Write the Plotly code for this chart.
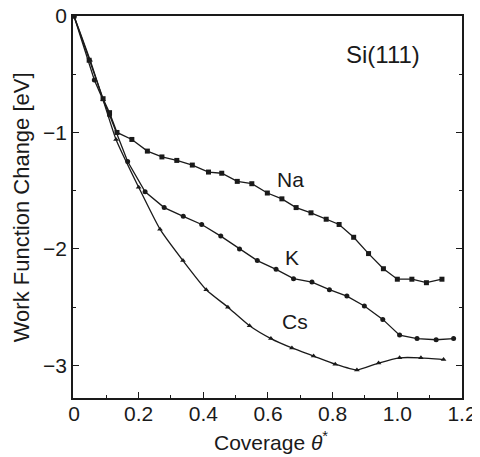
import plotly.graph_objects as go

# Coverage values and work function change [eV]
na_x = [0, 0.047, 0.09, 0.11, 0.133, 0.179, 0.227, 0.272, 0.318, 0.366, 0.416, 0.457, 0.505,
        0.55, 0.598, 0.643, 0.687, 0.733, 0.78, 0.82, 0.865, 0.911, 0.957, 1.0, 1.045, 1.09, 1.138]
na_y = [0, -0.38, -0.71, -0.83, -1.0, -1.06, -1.16, -1.21, -1.24, -1.28, -1.34, -1.35, -1.42,
        -1.44, -1.52, -1.57, -1.645, -1.69, -1.745, -1.79, -1.90, -2.04, -2.17, -2.26, -2.26, -2.29, -2.26]

k_x = [0, 0.063, 0.11, 0.166, 0.22, 0.279, 0.338, 0.395, 0.454, 0.512, 0.567, 0.625, 0.679,
       0.736, 0.79, 0.844, 0.898, 0.955, 1.007, 1.061, 1.12, 1.174]
k_y = [0, -0.55, -0.85, -1.25, -1.51, -1.645, -1.72, -1.79, -1.89, -2.0, -2.10, -2.175, -2.255,
       -2.285, -2.35, -2.405, -2.49, -2.605, -2.74, -2.77, -2.78, -2.77]

cs_x = [0, 0.05, 0.09, 0.13, 0.2, 0.266, 0.337, 0.409, 0.476, 0.543, 0.609, 0.674, 0.741,
        0.808, 0.875, 0.942, 1.007, 1.073, 1.143]
cs_y = [0, -0.38, -0.72, -1.06, -1.47, -1.83, -2.10, -2.35, -2.50, -2.66, -2.77, -2.85, -2.92,
        -2.99, -3.04, -2.98, -2.935, -2.935, -2.95]

labels = [("Na", 0.67, -1.40), ("K", 0.675, -2.07), ("Cs", 0.685, -2.62)]

FONT = "Liberation Sans, Arial, sans-serif"
INK = "#1a1a1a"

fig = go.Figure()
fig.add_trace(go.Scatter(x=na_x, y=na_y, mode="lines+markers",
                         line=dict(color=INK, width=1.3),
                         marker=dict(symbol="square", size=5, color=INK)))
fig.add_trace(go.Scatter(x=k_x, y=k_y, mode="lines+markers",
                         line=dict(color=INK, width=1.3),
                         marker=dict(symbol="circle", size=5, color=INK)))
fig.add_trace(go.Scatter(x=cs_x, y=cs_y, mode="lines+markers",
                         line=dict(color=INK, width=1.3, shape="spline", smoothing=0.5),
                         marker=dict(symbol="triangle-up", size=5, color=INK)))

for t, x, y in labels:
    fig.add_annotation(x=x, y=y, text=t, showarrow=False,
                       font=dict(size=21, color=INK, family=FONT))
fig.add_annotation(x=0.955, y=-0.33, text="Si(111)", showarrow=False,
                   font=dict(size=24, color=INK, family=FONT))

# axis titles placed as paper annotations
fig.add_annotation(xref="paper", yref="paper", x=0.51, y=-0.073, yanchor="top",
                   text="Coverage <i>θ</i><sup>*</sup>", showarrow=False,
                   font=dict(size=21, color=INK, family=FONT))
fig.add_annotation(xref="paper", yref="paper", x=-0.133, y=0.5, textangle=-90,
                   xanchor="center", yanchor="middle",
                   text="Work Function Change [eV]", showarrow=False,
                   font=dict(size=22, color=INK, family=FONT))

# the page body has an 8px default margin, so the figure is 8px smaller on each side
fig.update_layout(
    width=472, height=449,
    margin=dict(l=65, r=18, t=8, b=59),
    paper_bgcolor="white", plot_bgcolor="white",
    showlegend=False,
    font=dict(family=FONT, size=21, color=INK),
)
fig.update_xaxes(range=[-0.003, 1.2], tickvals=[0, 0.2, 0.4, 0.6, 0.8, 1.0, 1.2],
                 ticktext=["0", "0.2", "0.4", "0.6", "0.8", "1.0", "1.2"],
                 ticks="inside", ticklen=6, tickcolor=INK, tickwidth=1.2,
                 minor=dict(dtick=0.1, ticks="inside", ticklen=3, tickcolor=INK),
                 showline=True, linecolor=INK, linewidth=1.5, mirror=True,
                 showgrid=False, zeroline=False, automargin=False,
                 ticklabelstandoff=-4, ticklabeloverflow="allow",
                 tickfont=dict(size=21, family=FONT, color=INK))
fig.update_yaxes(range=[-3.28, 0], tickvals=[0, -1, -2, -3],
                 ticks="inside", ticklen=6, tickcolor=INK, tickwidth=1.2,
                 minor=dict(dtick=0.5, ticks="inside", ticklen=3, tickcolor=INK),
                 showline=True, linecolor=INK, linewidth=1.5, mirror="ticks",
                 showgrid=False, zeroline=False, automargin=False,
                 ticklabeloverflow="allow",
                 tickfont=dict(size=21, family=FONT, color=INK))

fig.write_html("out.html")
